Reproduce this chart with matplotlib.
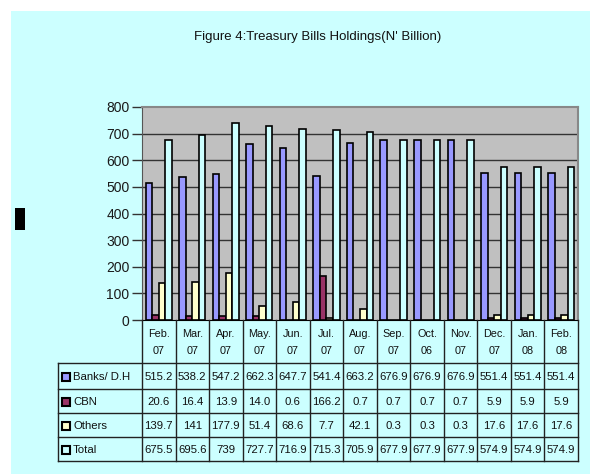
import matplotlib.pyplot as plt
import numpy as np
from matplotlib.patches import Rectangle

# Datos
months = ['Feb.', 'Mar.', 'Apr.', 'May.', 'Jun.', 'Jul.', 'Aug.', 'Sep.', 'Oct.', 'Nov.', 'Dec.', 'Jan.', 'Feb.']
years = ['07', '07', '07', '07', '07', '07', '07', '07', '06', '07', '07', '08', '08']
banks = [515.2, 538.2, 547.2, 662.3, 647.7, 541.4, 663.2, 676.9, 676.9, 676.9, 551.4, 551.4, 551.4]
cbn = [20.6, 16.4, 13.9, 14.0, 0.6, 166.2, 0.7, 0.7, 0.7, 0.7, 5.9, 5.9, 5.9]
others = [139.7, 141, 177.9, 51.4, 68.6, 7.7, 42.1, 0.3, 0.3, 0.3, 17.6, 17.6, 17.6]
total = [675.5, 695.6, 739, 727.7, 716.9, 715.3, 705.9, 677.9, 677.9, 677.9, 574.9, 574.9, 574.9]
series_names = ['Banks/ D.H', 'CBN', 'Others', 'Total']
series_colors = ['#9999FF', '#993366', '#FFFFCC', '#CCFFFF']
yticks = [0, 100, 200, 300, 400, 500, 600, 700, 800]

W, H = 590, 474
plt.rcParams['font.family'] = 'Liberation Sans'
fig = plt.figure(figsize=(W / 100, H / 100), dpi=100, facecolor='white')

def fx(px):
    return px / W

def fy(py):
    return 1 - py / H

# fondo cian del gráfico
fig.patches.append(Rectangle((fx(11), 0), 1 - fx(11), fy(11), transform=fig.transFigure,
                             facecolor='#CCFFFF', edgecolor='none', zorder=-10))
fig.patches.append(Rectangle((fx(15), fy(230)), fx(10), 22 / H, transform=fig.transFigure,
                             facecolor='black', edgecolor='none', zorder=-5))

fig.text(fx(318), fy(37), "Figure 4:Treasury Bills Holdings(N' Billion)",
         ha='center', va='center', fontsize=9.5, color='#111111')

left, right, top, bottom = 142, 578, 107, 320
ax = fig.add_axes([fx(left), fy(bottom), fx(right - left), (bottom - top) / H])
ax.set_facecolor('#C0C0C0')

x = np.arange(len(months))
bw = 0.195
data = [banks, cbn, others, total]
for k, (vals, col) in enumerate(zip(data, series_colors)):
    ax.bar(x + (k - 1.5) * bw, vals, width=bw, color=col, edgecolor='black',
           linewidth=1.2, zorder=3)

ax.set_xlim(-0.5, len(months) - 0.5)
ax.set_ylim(0, 800)
ax.set_yticks(yticks)
ax.set_yticklabels([str(t) for t in yticks], fontsize=10, color='#1a1a1a')
ax.set_xticks([])
ax.tick_params(axis='y', length=7, width=1, color='#333333', pad=2)
for t in yticks[1:-1]:
    ax.axhline(t, color='#333333', linewidth=1, zorder=1)
ax.spines['left'].set_color('#555555')
ax.spines['bottom'].set_color('black')
ax.spines['top'].set_color('#888888')
ax.spines['right'].set_color('#888888')
ax.spines['top'].set_linewidth(1.5)
ax.spines['right'].set_linewidth(1.5)

# ---- Tabla de datos ----
tab_top, tab_bot = 320, 461
tab = fig.add_axes([fx(left), fy(tab_bot), fx(right - left), (tab_bot - tab_top) / H])
tab.set_xlim(ax.get_xlim())
tab.set_ylim(tab_bot, tab_top)
tab.axis('off')
tab.patch.set_visible(False)

row_lines = [363, 389, 413, 437, 461]
lab_x = -0.5 - (left - 58) / ((right - left) / len(months))
lc = '#222222'
for ry in row_lines:
    tab.plot([lab_x, len(months) - 0.5], [ry, ry], color=lc, lw=1, clip_on=False)
tab.plot([lab_x, lab_x], [363, 461], color=lc, lw=1, clip_on=False)
for i in range(len(months) + 1):
    tab.plot([i - 0.5, i - 0.5], [320, 461], color=lc, lw=1, clip_on=False)

for i in range(len(months)):
    tab.text(i, 334, months[i], ha='center', va='center', fontsize=7.8, color='#111111')
    tab.text(i, 351, years[i], ha='center', va='center', fontsize=7.8, color='#111111')

centers = [(row_lines[j] + row_lines[j + 1]) / 2 + 1 for j in range(4)]
unit = (right - left) / len(months)
for j, (vals, name, col) in enumerate(zip(data, series_names, series_colors)):
    cy = centers[j]
    tab.add_patch(Rectangle((lab_x + 3.5 / unit, cy - 4), 8 / unit, 8, facecolor=col,
                            edgecolor='black', lw=1.5, clip_on=False))
    tab.text(lab_x + 15 / unit, cy, name, ha='left', va='center', fontsize=8.2, color='#111111',
             clip_on=False)
    for i, v in enumerate(vals):
        tab.text(i, cy, str(v), ha='center', va='center', fontsize=8.2, color='#111111')

plt.savefig('out.png', dpi=100, facecolor=fig.get_facecolor())
